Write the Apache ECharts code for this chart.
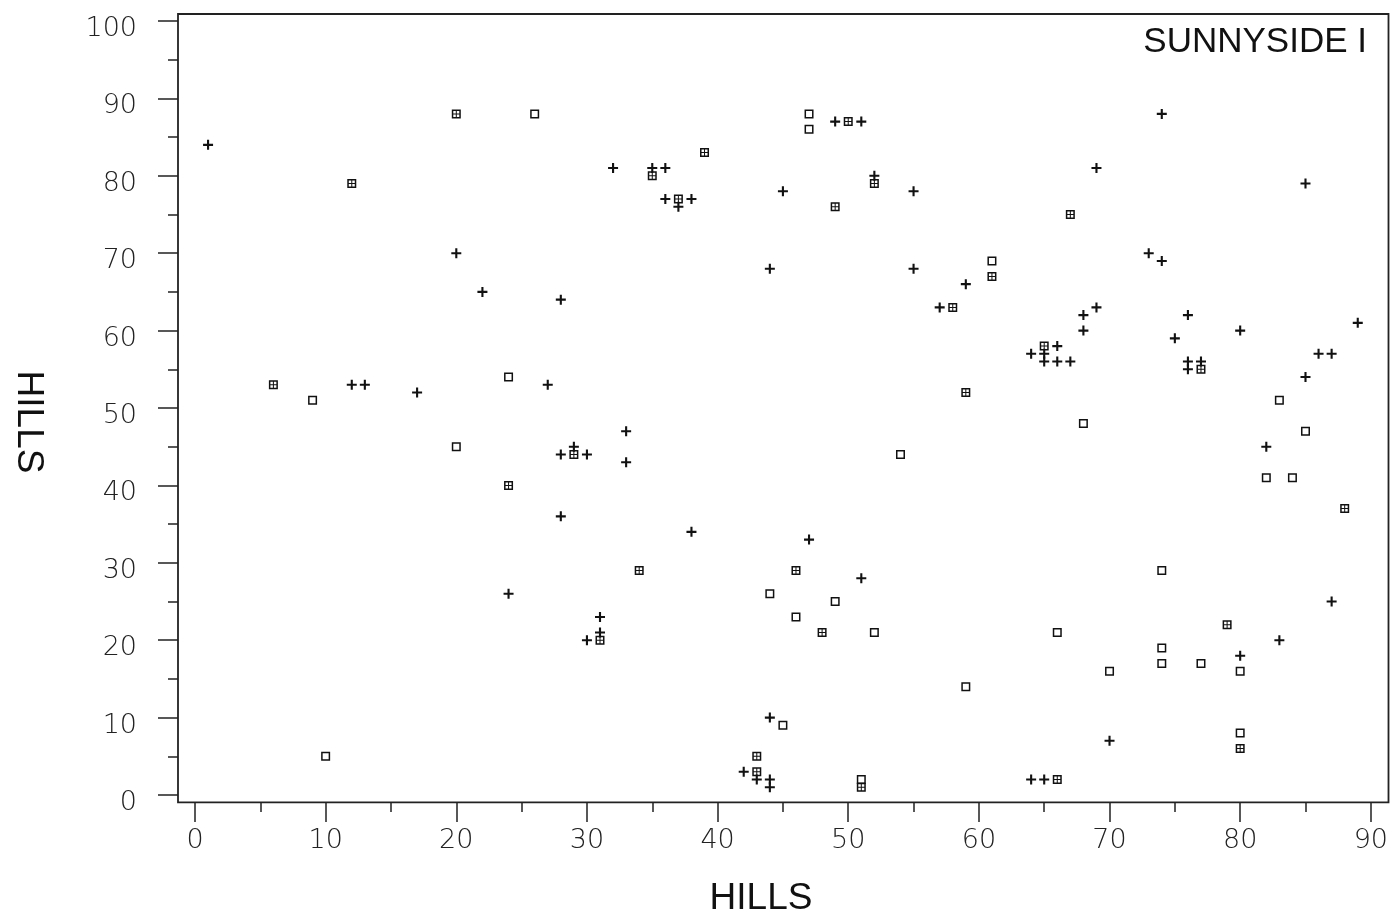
<!DOCTYPE html>
<html><head><meta charset="utf-8">
<script src="https://cdn.jsdelivr.net/npm/echarts@6/dist/echarts.min.js"></script>
<style>html,body{margin:0;padding:0;background:#fff}#c{width:1391px;height:914px}</style>
</head><body><div id="c"></div>
<script>
const chartTitle = 'SUNNYSIDE I';
const xAxisName = 'HILLS';
const yAxisName = 'HILLS';
const xRange = [0, 90];
const yRange = [0, 100];

const plusPoints = [[1,84],[12,53],[13,53],[17,52],[20,70],[22,65],[28,64],[27,53],[28,44],[30,44],[29,45],[33,47],[33,43],[28,36],[24,26],[30,20],[31,23],[31,21],[32,81],[35,81],[36,81],[36,77],[38,77],[37,76],[38,34],[44,68],[45,78],[49,87],[51,87],[52,80],[55,78],[55,68],[47,33],[51,28],[44,10],[42,3],[43,2],[44,2],[44,1],[57,63],[59,66],[64,57],[65,57],[66,58],[65,56],[66,56],[67,56],[64,2],[65,2],[68,62],[68,60],[69,63],[69,81],[70,7],[73,70],[74,69],[74,88],[75,59],[76,62],[76,56],[76,55],[77,56],[80,60],[80,18],[82,45],[83,20],[85,79],[85,54],[86,57],[87,57],[87,25],[89,61]];

const squarePoints = [[9,51],[10,5],[20,45],[24,54],[26,88],[47,88],[47,86],[44,26],[45,9],[46,23],[49,25],[52,21],[51,2],[54,44],[59,14],[61,69],[66,21],[68,48],[70,16],[74,29],[74,19],[74,17],[77,17],[80,16],[80,8],[82,41],[83,51],[84,41],[85,47]];

const boxedPoints = [[6,53],[12,79],[20,88],[24,40],[29,44],[31,20],[34,29],[35,80],[37,77],[39,83],[49,76],[50,87],[52,79],[43,5],[43,3],[46,29],[48,21],[51,1],[58,63],[59,52],[61,67],[65,58],[66,2],[67,75],[77,55],[79,22],[80,6],[88,37]];

const PLUS = 'path://M3.75,0H5.75V3.75H9.5V5.75H5.75V9.5H3.75V5.75H0V3.75H3.75Z';
const SQUARE = 'path://M0,0H9V9H0Z M1.5,1.5V7.5H7.5V1.5Z';
const BOXED = 'path://M0,0H9V9H0Z M1.5,1.5V7.5H7.5V1.5Z M4,1.5H5V7.5H4Z M1.5,4H7.5V5H1.5Z';

const tickFont = { fontFamily: 'DejaVu Sans', fontWeight: 200, fontSize: 27, color: '#222' };
const tickLine = { color: '#222', width: 1.5 };

const chart = echarts.init(document.getElementById('c'), null, { renderer: 'canvas' });
chart.setOption({
  backgroundColor: '#fff',
  animation: false,
  grid: [
    { left: 195, right: 20, top: 21, bottom: 119, show: false },
    { left: 178, right: 2.5, top: 14, bottom: 111.7, show: true, borderColor: '#222', borderWidth: 1.8, backgroundColor: 'transparent' }
  ],
  xAxis: [
    { type: 'value', gridIndex: 0, min: xRange[0], max: xRange[1], interval: 10, offset: 7,
      axisLine: { show: false, onZero: false }, splitLine: { show: false },
      axisTick: { show: true, inside: false, length: 20, lineStyle: tickLine },
      minorTick: { show: true, splitNumber: 2, length: 10, lineStyle: tickLine },
      axisLabel: Object.assign({ margin: 25 }, tickFont) },
    { type: 'value', gridIndex: 1, show: false, min: 0, max: 1 }
  ],
  yAxis: [
    { type: 'value', gridIndex: 0, min: yRange[0], max: yRange[1], interval: 10, offset: 17,
      axisLine: { show: false, onZero: false }, splitLine: { show: false },
      axisTick: { show: true, inside: false, length: 20, lineStyle: tickLine },
      minorTick: { show: true, splitNumber: 2, length: 10, lineStyle: tickLine },
      axisLabel: Object.assign({ margin: 41, verticalAlign: 'top', lineHeight: 16 }, tickFont) },
    { type: 'value', gridIndex: 1, show: false, min: 0, max: 1 }
  ],
  series: [
    { type: 'scatter', xAxisIndex: 0, yAxisIndex: 0, data: squarePoints, symbol: SQUARE, symbolSize: 9,
      itemStyle: { color: '#111', opacity: 1 }, silent: true },
    { type: 'scatter', xAxisIndex: 0, yAxisIndex: 0, data: boxedPoints, symbol: BOXED, symbolSize: 9,
      itemStyle: { color: '#111', opacity: 1 }, silent: true },
    { type: 'scatter', xAxisIndex: 0, yAxisIndex: 0, data: plusPoints, symbol: PLUS, symbolSize: 10,
      itemStyle: { color: '#111', opacity: 1 }, silent: true }
  ],
  graphic: [
    { type: 'text', x: 1367, y: 42, style: { text: chartTitle, fill: '#111', font: '35px "Liberation Sans"', align: 'right', verticalAlign: 'middle' } },
    { type: 'text', x: 761, y: 899, style: { text: xAxisName, fill: '#111', font: '37px "Liberation Sans"', align: 'center', verticalAlign: 'middle' } },
    { type: 'text', x: 28, y: 422, rotation: -Math.PI / 2, style: { text: yAxisName, fill: '#111', font: '37px "Liberation Sans"', align: 'center', verticalAlign: 'middle' } }
  ]
});
</script>
</body></html>
